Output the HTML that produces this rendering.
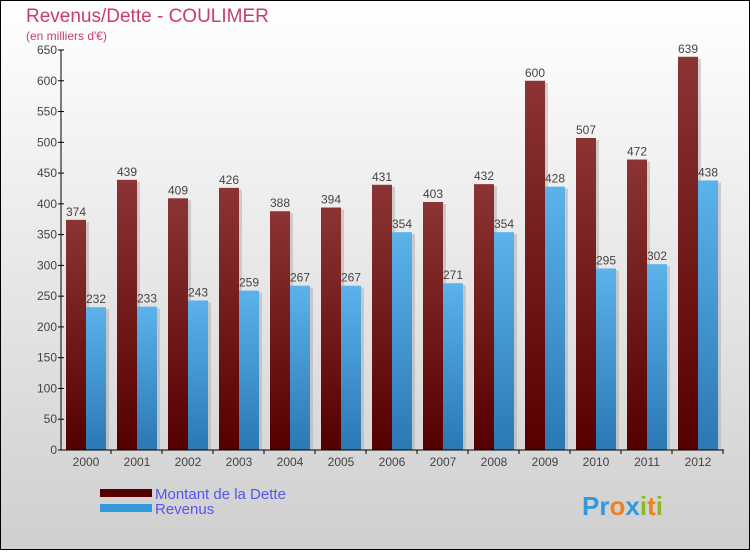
<!DOCTYPE html>
<html><head><meta charset="utf-8"><style>
body{margin:0}
svg text{font-family:"Liberation Sans",sans-serif}
</style></head><body>
<svg id="c" width="750" height="550" xmlns="http://www.w3.org/2000/svg">
<defs>
<linearGradient id="bg" x1="0" y1="0" x2="0" y2="1"><stop offset="0" stop-color="#ffffff"/><stop offset="1" stop-color="#cfcfcf"/></linearGradient>
<linearGradient id="gd" x1="0" y1="0" x2="0" y2="1"><stop offset="0" stop-color="#8c3434"/><stop offset="1" stop-color="#550000"/></linearGradient>
<linearGradient id="gr" x1="0" y1="0" x2="0" y2="1"><stop offset="0" stop-color="#5cb2ea"/><stop offset="1" stop-color="#2a78b4"/></linearGradient>
</defs>
<rect x="0.5" y="0.5" width="749" height="549" fill="url(#bg)" stroke="#000"/>
<text x="26" y="22" font-size="19" fill="#c83c6e">Revenus/Dette - COULIMER</text>
<text x="26" y="40" font-size="12" fill="#c83c6e">(en milliers d'€)</text>
<g id="bars"></g>
<g id="axes"></g>
<rect x="100" y="489" width="52" height="8" fill="#550000"/>
<rect x="100" y="504" width="52" height="8" fill="#3399dd"/>
<text x="155" y="499" font-size="15" fill="#5555ee">Montant de la Dette</text>
<text x="155" y="514" font-size="15" fill="#5555ee">Revenus</text>
<text x="582" y="515" font-size="26" font-weight="bold"><tspan fill="#3399dd">Pr</tspan><tspan fill="#f08020">o</tspan><tspan fill="#3399dd">x</tspan><tspan fill="#88bb22">i</tspan><tspan fill="#f08020">t</tspan><tspan fill="#88bb22">i</tspan></text>
</svg>
<script>
const categories=["2000","2001","2002","2003","2004","2005","2006","2007","2008","2009","2010","2011","2012"];
const dette=[374,439,409,426,388,394,431,403,432,600,507,472,639];
const revenus=[232,233,243,259,267,267,354,271,354,428,295,302,438];
const ticks=[0,50,100,150,200,250,300,350,400,450,500,550,600,650];
const NS="http://www.w3.org/2000/svg";
const x0=61,gw=51,y0=450,ymax=650,ph=400;
const y=v=>y0-v/ymax*ph;
const bars=document.getElementById('bars'),axes=document.getElementById('axes');
function mk(p,t,a){const e=document.createElementNS(NS,t);for(const k in a)e.setAttribute(k,a[k]);p.appendChild(e);return e;}
categories.forEach((c,i)=>{
  const gx=x0+i*gw+5;
  [[dette,'url(#gd)','dette'],[revenus,'url(#gr)','revenus']].forEach(([arr,f,n],j)=>{
    const bx=gx+j*20,by=y(arr[i]);
    const s=mk(bars,'rect',{x:bx+3,y:by+2,width:20,height:y0-by-2,fill:'#aaa',opacity:0.5});
    
    
    const r=mk(bars,'rect',{x:bx,y:by,width:20,height:y0-by,fill:f});
    
    
    const t=mk(bars,'text',{x:bx+10,y:by-4,'font-size':12,fill:'#444','text-anchor':'middle'});
    t.textContent=arr[i];
    
    
  });
  const t=mk(axes,'text',{x:gx+20,y:466,'font-size':12,fill:'#444','text-anchor':'middle'});
  t.textContent=c;
  
  
  const tk=mk(axes,'line',{x1:gx+45,x2:gx+45,y1:y0,y2:y0+4,stroke:'#000'});
  
  
});
ticks.forEach(v=>{
  const l=mk(axes,'line',{x1:x0-3,x2:x0+3,y1:y(v),y2:y(v),stroke:'#000'});
  
  
  const t=mk(axes,'text',{x:x0-4,y:y(v)+4,'font-size':12,fill:'#444','text-anchor':'end'});
  t.textContent=v;
  
  
});
const ya=mk(axes,'line',{x1:x0,x2:x0,y1:y(650),y2:y0,stroke:'#000'});


const xa=mk(axes,'line',{x1:x0,x2:x0+13*gw,y1:y0,y2:y0,stroke:'#000'});


</script>
</body></html>
